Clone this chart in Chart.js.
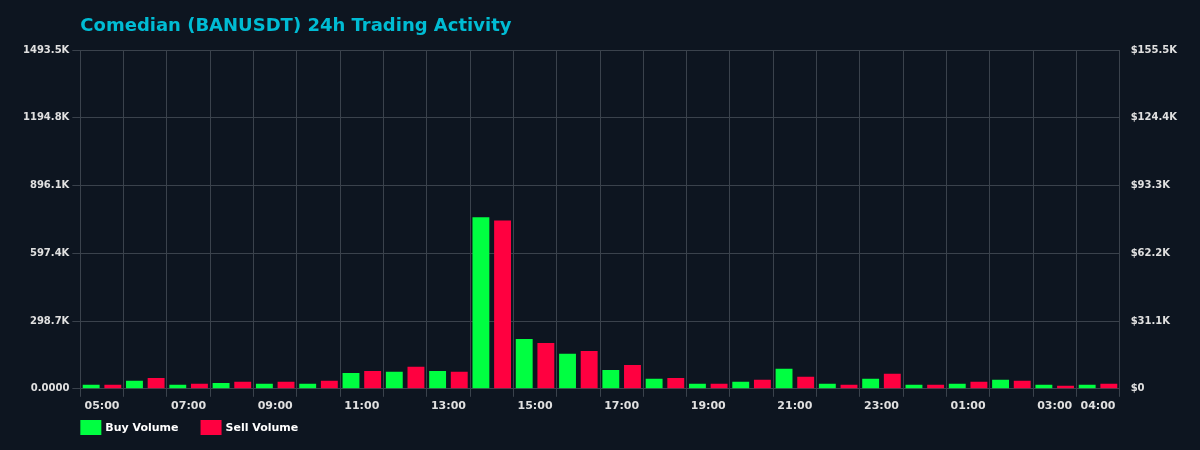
<!DOCTYPE html>
<html>
<head>
<script src="https://cdn.jsdelivr.net/npm/chart.js@4"></script>
<style>
  body { margin: 0; background: #0d1520; }
  #wrap { width: 1200px; height: 450px; }
</style>
</head>
<body>
<div id="wrap"><canvas id="activity"></canvas></div>
<script>
var hours = ["05:00","06:00","07:00","08:00","09:00","10:00","11:00","12:00","13:00","14:00","15:00","16:00",
             "17:00","18:00","19:00","20:00","21:00","22:00","23:00","00:00","01:00","02:00","03:00","04:00"];
var buyVolume = [18,35,18,26,22,22,70,75,79,756,220,154,83,44,22,31,88,22,44,18,22,40,18,18];
var sellVolume = [18,48,22,31,31,35,79,97,75,742,202,167,105,48,22,40,53,18,66,18,31,35,13,22];
var leftMax = 1493.5;
var rightMax = 155.5;
var titleText = "Comedian (BANUSDT) 24h Trading Activity";

Chart.defaults.font.family = "DejaVu Sans";
Chart.defaults.color = "#e0e0e0";

// title and legend drawn aligned with the plot area, like the reference
var headerLegend = {
  id: "headerLegend",
  afterDraw: function(chart) {
    var ctx = chart.ctx, left = chart.chartArea.left;
    ctx.save();
    ctx.fillStyle = "#00bcd4";
    ctx.font = "bold 18px DejaVu Sans";
    ctx.textBaseline = "middle";
    ctx.fillText(titleText, left, 26);
    ctx.font = "bold 11px DejaVu Sans";
    var x = left;
    chart.data.datasets.forEach(function(ds) {
      ctx.fillStyle = ds.backgroundColor;
      ctx.fillRect(x, 420, 21, 15);
      ctx.fillStyle = "#ffffff";
      ctx.fillText(ds.label, x + 25, 428);
      x += 25 + ctx.measureText(ds.label).width + 22;
    });
    ctx.restore();
  }
};

new Chart("activity", {
  type: "bar",
  plugins: [headerLegend],
  data: {
    labels: hours,
    datasets: [{
      label: "Buy Volume",
      backgroundColor: "#00ff41",
      data: buyVolume
    }, {
      label: "Sell Volume",
      backgroundColor: "#ff0040",
      data: sellVolume
    }]
  },
  options: {
    responsive: true,
    maintainAspectRatio: false,
    animation: false,
    layout: {padding: {left: 20, right: 20, top: 50, bottom: 34}},
    categoryPercentage: 1.0,
    barPercentage: 0.78,
    plugins: {
      title: {display: false},
      legend: {display: false},
      tooltip: {enabled: false}
    },
    scales: {
      x: {
        grid: {color: "#3a424c"},
        border: {color: "#3a424c"},
        ticks: {
          autoSkip: false, maxRotation: 0,
          font: {size: 11, weight: "bold"},
          callback: function(v, i) { return (i % 2 === 0 || i === hours.length - 1) ? hours[i] : ""; }
        }
      },
      y: {
        min: 0, max: leftMax,
        grid: {color: "#3a424c"},
        border: {color: "#3a424c"},
        afterBuildTicks: function(axis) {
          axis.ticks = [0,1,2,3,4,5].map(function(k) { return {value: leftMax * k / 5}; });
        },
        ticks: {
          font: {size: 10, weight: "bold"},
          callback: function(v) { return v === 0 ? "0.0000" : v.toFixed(1) + "K"; }
        }
      },
      y1: {
        position: "right", min: 0, max: rightMax,
        grid: {display: false},
        border: {color: "#3a424c"},
        afterBuildTicks: function(axis) {
          axis.ticks = [0,1,2,3,4,5].map(function(k) { return {value: rightMax * k / 5}; });
        },
        ticks: {
          font: {size: 10, weight: "bold"},
          callback: function(v) { return v === 0 ? "$0" : "$" + v.toFixed(1) + "K"; }
        }
      }
    }
  }
});
</script>
</body>
</html>
